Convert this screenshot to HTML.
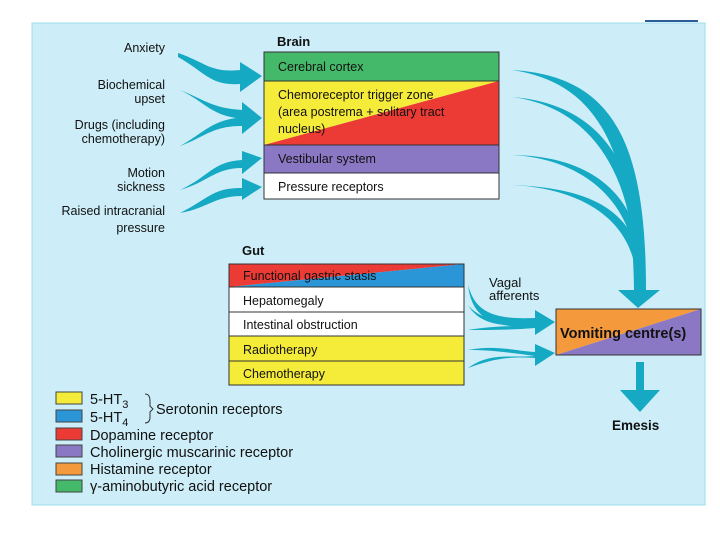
<!DOCTYPE html>
<html><head><style>
body{margin:0;background:#fff;width:720px;height:540px;overflow:hidden}
svg{display:block}
text{font-family:"Liberation Sans",sans-serif;font-size:12.5px;fill:#111}
.b{font-weight:bold}
.lg{font-size:14.5px}
</style></head><body>
<svg width="720" height="540" viewBox="0 0 720 540">
<rect x="32" y="23" width="673" height="482" fill="#cdeef8" stroke="#9fdcec"/>
<line x1="645" y1="21" x2="698" y2="21" stroke="#2a5d9a" stroke-width="2"/>
<g text-anchor="end" style="font-size:13px">
<text x="165" y="52">Anxiety</text>
<text x="165" y="89">Biochemical</text>
<text x="165" y="103">upset</text>
<text x="165" y="129">Drugs (including</text>
<text x="165" y="143">chemotherapy)</text>
<text x="165" y="177">Motion</text>
<text x="165" y="191">sickness</text>
<text x="165" y="215">Raised intracranial</text>
<text x="165" y="232">pressure</text>
</g>
<g fill="#15a9c4">
<path d="M178 53 C205 62,210 73,240 70 L240 62 L262 76 L240 92 L240 84 C210 86,205 72,178 57Z"/>
<path d="M180 90 C205 100,212 108,242 110 L242 102 L262 118 L242 134 L242 126 C212 126,205 137,180 146 C205 132,210 122,236 118 C210 114,205 102,180 90Z"/>
<path d="M180 190 C210 176,212 162,242 160 L242 151 L262 158 L242 174 L242 168 C215 168,208 182,180 190Z"/>
<path d="M180 213 C210 198,212 188,242 188 L242 178 L262 187 L242 200 L242 196 C215 196,208 208,180 213Z"/>
</g>
<text x="277" y="46" class="b" style="font-size:13px">Brain</text>
<rect x="264" y="52" width="235" height="29" fill="#45b96a"/>
<polygon points="264,81 499,81 264,145" fill="#f5ec3a"/>
<polygon points="499,81 499,145 264,145" fill="#ec3a34"/>
<rect x="264" y="145" width="235" height="28" fill="#8a78c4"/>
<rect x="264" y="173" width="235" height="26" fill="#fff"/>
<g stroke="#333" fill="none"><rect x="264" y="52" width="235" height="147"/><line x1="264" y1="81" x2="499" y2="81"/><line x1="264" y1="145" x2="499" y2="145"/><line x1="264" y1="173" x2="499" y2="173"/></g>
<text x="278" y="71">Cerebral cortex</text>
<text x="278" y="99">Chemoreceptor trigger zone</text>
<text x="278" y="116">(area postrema + solitary tract</text>
<text x="278" y="133">nucleus)</text>
<text x="278" y="163">Vestibular system</text>
<text x="278" y="191">Pressure receptors</text>
<g fill="#15a9c4">
<path d="M512 70 C592 82,632 140,634 290 L618 290 L638 308 L660 290 L646 290 C646 140,612 76,512 70Z"/>
<path d="M512 97 C582 106,626 160,634 250 L642 250 C634 160,598 104,512 97Z"/>
<path d="M512 155 C572 158,622 190,634 250 L642 250 C630 190,588 156,512 155Z"/>
<path d="M512 185 C572 188,622 212,634 262 L642 262 C630 208,588 188,512 185Z"/>
</g>
<text x="242" y="255" class="b" style="font-size:13px">Gut</text>
<polygon points="229,264 464,264 229,287" fill="#ec3a34"/>
<polygon points="464,264 464,287 229,287" fill="#2a96d8"/>
<rect x="229" y="287" width="235" height="49" fill="#fff"/>
<rect x="229" y="336" width="235" height="49" fill="#f5ec3a"/>
<g stroke="#333" fill="none"><rect x="229" y="264" width="235" height="121"/><line x1="229" y1="287" x2="464" y2="287"/><line x1="229" y1="312" x2="464" y2="312"/><line x1="229" y1="336" x2="464" y2="336"/><line x1="229" y1="361" x2="464" y2="361"/></g>
<text x="243" y="280">Functional gastric stasis</text>
<text x="243" y="305">Hepatomegaly</text>
<text x="243" y="329">Intestinal obstruction</text>
<text x="243" y="354">Radiotherapy</text>
<text x="243" y="378">Chemotherapy</text>
<text x="489" y="287" style="font-size:13px">Vagal</text>
<text x="489" y="300" style="font-size:13px">afferents</text>
<g fill="#15a9c4">
<path d="M468 285 C475 310,490 320,535 318 L535 310 L555 322 L535 335 L535 327 C495 328,472 320,468 285Z"/>
<path d="M468 305 C480 320,500 322,535 322 L535 326 C500 326,480 325,468 305Z"/>
<path d="M468 330 C490 326,510 326,535 326 L535 328 C510 330,490 330,468 330Z"/>
<path d="M468 350 C495 345,510 350,535 352 L535 344 L555 353 L535 366 L535 358 C505 356,490 360,468 368 C490 352,510 358,535 356 C505 352,490 350,468 350Z"/>
<polygon points="636,362 644,362 644,390 660,390 640,412 620,390 636,390"/>
</g>
<polygon points="556,309 701,309 556,355" fill="#f49a3c"/>
<polygon points="701,309 701,355 556,355" fill="#8a78c4"/>
<rect x="556" y="309" width="145" height="46" fill="none" stroke="#333"/>
<text x="560" y="338" class="b" style="font-size:14.5px">Vomiting centre(s)</text>
<text x="612" y="430" class="b" style="font-size:13.5px">Emesis</text>
<g stroke="#444">
<rect x="56" y="392" width="26" height="12" fill="#f5ec3a"/>
<rect x="56" y="410" width="26" height="12" fill="#2a96d8"/>
<rect x="56" y="428" width="26" height="12" fill="#ec3a34"/>
<rect x="56" y="445" width="26" height="12" fill="#8a78c4"/>
<rect x="56" y="463" width="26" height="12" fill="#f49a3c"/>
<rect x="56" y="480" width="26" height="12" fill="#45b96a"/>
</g>
<text x="90" y="404" class="lg">5-HT<tspan dy="4" font-size="11">3</tspan></text>
<text x="90" y="422" class="lg">5-HT<tspan dy="4" font-size="11">4</tspan></text>
<path d="M145 394 Q150 394,150 401 L150 406 L153 409 L150 412 L150 417 Q150 423,145 423" fill="none" stroke="#333"/>
<text x="156" y="414" class="lg">Serotonin receptors</text>
<text x="90" y="440" class="lg">Dopamine receptor</text>
<text x="90" y="457" class="lg">Cholinergic muscarinic receptor</text>
<text x="90" y="474" class="lg">Histamine receptor</text>
<text x="90" y="491" class="lg">γ-aminobutyric acid receptor</text>
</svg>
</body></html>
